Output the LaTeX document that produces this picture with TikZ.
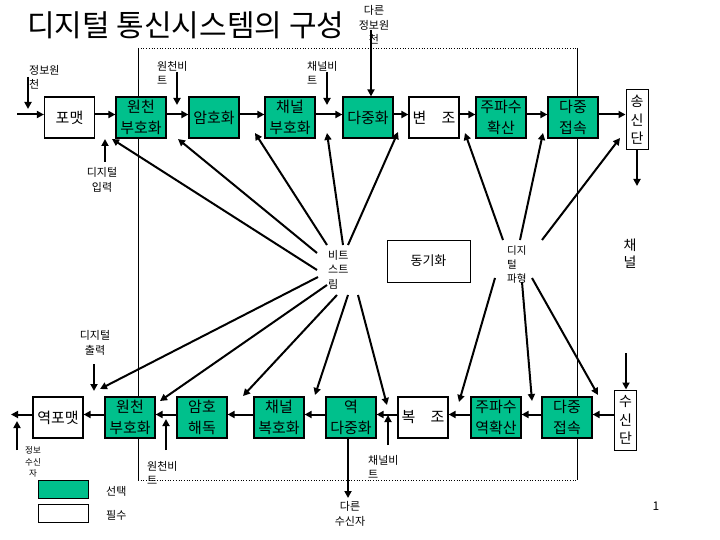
\documentclass[tikz,border=0pt]{standalone}
\usepackage{fontspec}
\setmainfont{Noto Sans CJK KR}
\usetikzlibrary{arrows.meta}
\definecolor{boxgreen}{RGB}{0,192,140}
\begin{document}
\begin{tikzpicture}[x=1pt,y=-1pt,
  blk/.style={draw=black,line width=1.2pt,minimum width=50pt,minimum height=41pt,inner sep=0pt,align=center,font=\fontsize{15}{21}\selectfont},
  opt/.style={blk,fill=boxgreen},
  req/.style={blk,fill=white},
  tall/.style={draw=black,line width=1pt,fill=white,minimum width=22pt,minimum height=60pt,inner sep=0pt,align=center,font=\fontsize{14}{18.5}\selectfont},
  lbl/.style={align=left,inner sep=0pt,font=\fontsize{11}{14.5}\selectfont},
  clbl/.style={align=center,inner sep=0pt,font=\fontsize{11}{14.5}\selectfont},
  arr/.style={line width=2pt,-{Triangle[length=7pt,width=7pt]}},
  ray/.style={line width=2pt,-{Triangle[length=7pt,width=7pt]}},
  frame/.style={line width=0.7pt}
]
\useasboundingbox (0,0) rectangle (720,540);

% frame
\draw[frame] (138,48) -- (138,480);
\draw[frame] (577,48) -- (577,480);
\draw[frame,dotted] (138,48) -- (577,48);
\draw[frame,dotted] (138,480) -- (577,480);

% title
\node[anchor=west,inner sep=0pt,font=\fontsize{30}{30}\selectfont] (title) at (27,25) {디지털 통신시스템의 구성};

% top row
\node[req] (fmt)  at (69.5,117.5) {포맷};
\node[opt] (senc) at (141,117.5) {원천\\부호화};
\node[opt] (enc)  at (214,117.5) {암호화};
\node[opt] (cenc) at (290,117.5) {채널\\부호화};
\node[opt] (mux)  at (368,117.5) {다중화};
\node[req] (mod)  at (434,117.5) {변\hspace{1em}조};
\node[opt] (fhs)  at (501,117.5) {주파수\\확산};
\node[opt] (ma)   at (573,117.5) {다중\\접속};
\node[tall] (tx)  at (637,120) {송\\신\\단};

\foreach \a/\b in {fmt/senc,senc/enc,enc/cenc,cenc/mux,mux/mod,mod/fhs,fhs/ma}
  \draw[arr] ([yshift=3pt]\a.east) -- ([yshift=3pt]\b.west);
\draw[arr] ([yshift=3pt]ma.east) -- ([yshift=3pt]ma.east -| tx.west);
\coordinate (inL) at (17,114.5);
\draw[arr] (inL) -- ([yshift=3pt]fmt.west);

% top labels and arrows
\node[lbl,anchor=north west] (linfo) at (29,65) {정보원\\천};
\coordinate (i1s) at (28,77); \coordinate (i1e) at (28,109);
\draw[arr] (i1s) -- (i1e);
\node[lbl,anchor=north west] (lsb) at (157,61) {원천비\\트};
\coordinate (i2s) at (177,72); \coordinate (i2e) at (177,105);
\draw[arr] (i2s) -- (i2e);
\node[lbl,anchor=north west] (lcb) at (307,61) {채널비\\트};
\coordinate (i3s) at (327,72); \coordinate (i3e) at (327,105);
\draw[arr] (i3s) -- (i3e);
\node[clbl] (lother) at (374,25) {다른\\정보원\\천};
\coordinate (i4s) at (371,30);
\draw[arr] (i4s) -- (i4s |- mux.north);
\node[clbl] (ldin) at (102,180) {디지털\\입력};
\coordinate (i5s) at (105,162); \coordinate (i5e) at (105,139);
\draw[arr] (i5s) -- (i5e);
\coordinate (txo) at (637,186);
\draw[arr] (tx.south) -- (txo);

% middle
\node[lbl,anchor=north west] (bs) at (328,250) {비트\\스트\\림};
\node[draw=black,line width=1pt,minimum width=83pt,minimum height=42pt,inner sep=0pt,font=\fontsize{13}{13}\selectfont] (sync) at (428.5,261) {동기화};
\node[lbl,anchor=north west,font=\fontsize{10.5}{14}\selectfont] (dw) at (507,246) {디지\\털\\파형};
\node[clbl,font=\fontsize{14}{17}\selectfont] (chan) at (630,254) {채\\널};

% bit stream rays (top)
\coordinate (b1s) at (317,270); \coordinate (b1e) at (112,139);
\coordinate (b2s) at (317,253); \coordinate (b2e) at (178,139);
\coordinate (b3s) at (327,245); \coordinate (b3e) at (255,133);
\coordinate (b4s) at (343,245); \coordinate (b4e) at (327,133);
\coordinate (b5s) at (348,245); \coordinate (b5e) at (398,132);
\foreach \i in {1,...,5} \draw[ray] (b\i s) -- (b\i e);
% bit stream rays (bottom)
\coordinate (c1s) at (318,277); \coordinate (c1e) at (100,389);
\coordinate (c2s) at (327,285); \coordinate (c2e) at (160,401);
\coordinate (c3s) at (337,295); \coordinate (c3e) at (243,396);
\coordinate (c4s) at (348,295); \coordinate (c4e) at (315,395);
\coordinate (c5s) at (358,295); \coordinate (c5e) at (387,405);
\foreach \i in {1,...,5} \draw[ray] (c\i s) -- (c\i e);
% digital waveform rays
\coordinate (d1s) at (503,240); \coordinate (d1e) at (465,133);
\coordinate (d2s) at (520,240); \coordinate (d2e) at (543,133);
\coordinate (d3s) at (542,240); \coordinate (d3e) at (620,138);
\coordinate (d4s) at (495,278); \coordinate (d4e) at (459,402);
\coordinate (d5s) at (522,282); \coordinate (d5e) at (532,401);
\coordinate (d6s) at (532,278); \coordinate (d6e) at (598,395);
\foreach \i in {1,...,6} \draw[ray] (d\i s) -- (d\i e);

% bottom row
\node[req] (ifmt)  at (58,417.5) {역포맷};
\node[opt] (sdec)  at (130,417.5) {원천\\부호화};
\node[opt] (dec)   at (202,417.5) {암호\\해독};
\node[opt] (cdec)  at (279,417.5) {채널\\복호화};
\node[opt] (demux) at (351,417.5) {역\\다중화};
\node[req] (demod) at (423,417.5) {복\hspace{1em}조};
\node[opt] (fhd)   at (496,417.5) {주파수\\역확산};
\node[opt] (ma2)   at (567,417.5) {다중\\접속};
\node[tall] (rx)   at (625.5,420) {수\\신\\단};

\draw[arr] ([yshift=3pt]ma2.east -| rx.west) -- ([yshift=3pt]ma2.east);
\foreach \a/\b in {ma2/fhd,fhd/demod,demod/demux,demux/cdec,cdec/dec,dec/sdec,sdec/ifmt}
  \draw[arr] ([yshift=3pt]\a.west) -- ([yshift=3pt]\b.east);
\coordinate (outL) at (11,414.5);
\draw[arr] ([yshift=3pt]ifmt.west) -- (outL);
\coordinate (rxi) at (626,353);
\draw[arr] (rxi) -- (rxi |- rx.north);

% bottom labels and arrows
\coordinate (j1s) at (17,450); \coordinate (j1e) at (17,421);
\draw[arr] (j1s) -- (j1e);
\node[clbl,font=\fontsize{8.5}{11.5}\selectfont] (lrecv) at (33,462) {정보\\수신\\자};
\node[clbl] (ldout) at (95,343) {디지털\\출력};
\coordinate (j2s) at (94,364); \coordinate (j2e) at (94,391);
\draw[arr] (j2s) -- (j2e);
\coordinate (j3s) at (166,450); \coordinate (j3e) at (166,419);
\draw[arr] (j3s) -- (j3e);
\node[lbl,anchor=north west] (lsb2) at (147,461) {원천비\\트};
\coordinate (j4s) at (388,445); \coordinate (j4e) at (388,415);
\draw[arr] (j4s) -- (j4e);
\node[lbl,anchor=north west] (lcb2) at (368,455) {채널비\\트};
\coordinate (orx) at (348,498);
\draw[arr] (demux.south -| orx) -- (orx);
\node[clbl] (lorx) at (350,514) {다른\\수신자};

% legend
\node[draw=black,line width=1pt,fill=boxgreen,minimum width=50pt,minimum height=18pt,inner sep=0pt] (lg1) at (63,489) {};
\node[draw=black,line width=1pt,fill=white,minimum width=50pt,minimum height=18pt,inner sep=0pt] (lg2) at (63,513) {};
\node[lbl,anchor=west] (lgt1) at (106,491) {선택};
\node[lbl,anchor=west] (lgt2) at (106,515) {필수};

% page number
\node[inner sep=0pt,font=\fontsize{12}{12}\selectfont] (pg) at (656,506) {1};
\end{tikzpicture}
\end{document}
